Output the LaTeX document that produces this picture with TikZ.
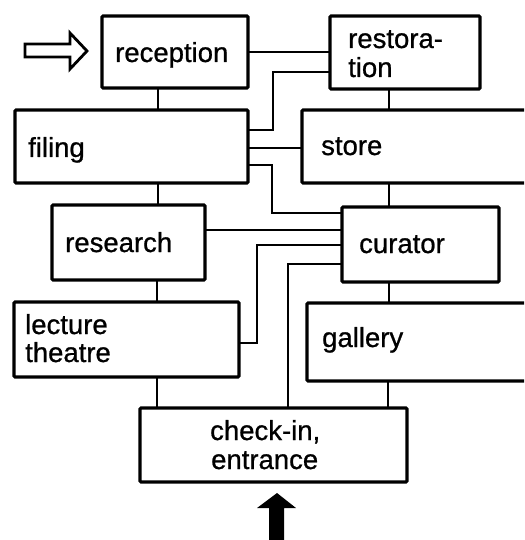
\documentclass[tikz,border=0pt]{standalone}
\usepackage{fontspec}
\setmainfont{Liberation Sans}
\newfontfamily\lblfont[FakeBold=0.8]{Liberation Sans}
\begin{document}
\begin{tikzpicture}[x=1pt,y=-1pt,
  boxstyle/.style={draw=black,line width=3.2pt,rounded corners=1.2pt,inner sep=0pt,outer sep=0pt,anchor=north west},
  openbox/.style={inner sep=0pt,outer sep=0pt,anchor=north west},
  lbl/.style={anchor=base west,inner sep=0pt,font=\lblfont\fontsize{27.5}{29}\selectfont,align=left},
  wire/.style={draw=black,line width=2pt}]
\clip (0,0) rectangle (524,540);
\fill[white] (0,0) rectangle (524,540);
% boxes
\node[boxstyle,minimum width=146pt,minimum height=72pt] (reception) at (102,16) {};
\node[boxstyle,minimum width=150pt,minimum height=73pt] (restoration) at (330,16) {};
\node[boxstyle,minimum width=233pt,minimum height=73pt] (filing) at (15,110) {};
\node[openbox,minimum width=240pt,minimum height=73pt] (store) at (302,110) {};
\node[boxstyle,minimum width=153pt,minimum height=75pt] (research) at (52,205) {};
\node[boxstyle,minimum width=157pt,minimum height=75pt] (curator) at (342,207) {};
\node[boxstyle,minimum width=225pt,minimum height=75pt] (lecture) at (14,302) {};
\node[openbox,minimum width=235pt,minimum height=78pt] (gallery) at (307,303) {};
\node[boxstyle,minimum width=267pt,minimum height=74pt] (checkin) at (140,408) {};
% open-right boxes
\draw[line width=3.2pt,rounded corners=1.2pt] (store.north east) -- (store.north west) -- (store.south west) -- (store.south east);
\draw[line width=3.2pt,rounded corners=1.2pt] (gallery.north east) -- (gallery.north west) -- (gallery.south west) -- (gallery.south east);
% labels
\node[lbl] (receptiont) at (115,62) {reception};
\node[lbl] (restorationt) at (348,48) {restora-};
\node[lbl] (restorationt2) at (348,77) {tion};
\node[lbl] (filingt) at (28,157) {filing};
\node[lbl] (storet) at (321,155) {store};
\node[lbl] (researcht) at (65,252) {research};
\node[lbl] (curatort) at (359,253) {curator};
\node[lbl] (lecturet) at (25,334) {lecture};
\node[lbl] (lecturet2) at (25,362) {theatre};
\node[lbl] (galleryt) at (322,347) {gallery};
\node[lbl] (checkint) at (210,440) {check-in,};
\node[lbl] (checkint2) at (211,469) {entrance};
% vertical connectors
\draw[wire] (reception.south -| 158,0) -- (filing.north -| 158,0);
\draw[wire] (filing.south -| 158,0) -- (research.north -| 158,0);
\draw[wire] (research.south -| 157,0) -- (lecture.north -| 157,0);
\draw[wire] (lecture.south -| 157,0) -- (checkin.north -| 157,0);
\draw[wire] (restoration.south -| 389,0) -- (store.north -| 389,0);
\draw[wire] (store.south -| 389,0) -- (curator.north -| 389,0);
\draw[wire] (curator.south -| 389,0) -- (gallery.north -| 389,0);
\draw[wire] (gallery.south -| 388,0) -- (checkin.north -| 388,0);
% horizontal and elbow connectors
\draw[wire] (reception.east |- 0,52) -- (restoration.west |- 0,52);
\draw[wire] (filing.east |- 0,130) -- (273,130) -- (273,72) -- (restoration.west |- 0,72);
\draw[wire] (filing.east |- 0,148) -- (store.west |- 0,148);
\draw[wire] (filing.east |- 0,165) -- (272,165) -- (272,213) -- (curator.west |- 0,213);
\draw[wire] (research.east |- 0,230) -- (curator.west |- 0,230);
\draw[wire] (lecture.east |- 0,343) -- (257,343) -- (257,245) -- (curator.west |- 0,245);
\draw[wire] (curator.west |- 0,264) -- (288,264) -- (checkin.north -| 288,0);
% hollow entry arrow
\draw[line width=2.8pt,line join=miter] (25,44) -- (70,44) -- (70,33) -- (87,51) -- (70,69) -- (70,57) -- (25,57) -- cycle;
% solid entrance arrow
\fill[black] (277,493) -- (296,508) -- (284,508) -- (284,545) -- (269,545) -- (269,508) -- (257,508) -- cycle;
\end{tikzpicture}
\end{document}
